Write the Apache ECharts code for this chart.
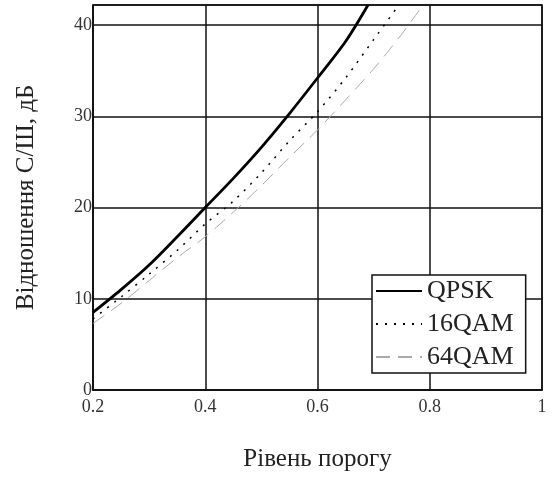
<!DOCTYPE html>
<html>
<head>
<meta charset="utf-8">
<script src="https://cdn.jsdelivr.net/npm/echarts@6/dist/echarts.min.js"></script>
<style>
  html, body { margin: 0; padding: 0; background: #fff; }
  #chart { width: 552px; height: 477px; }
</style>
</head>
<body>
<div id="chart"></div>
<script>
// curve points: [porog, S/N dB]
var qpsk = [[0.2, 8.5], [0.25, 11.0], [0.3, 13.7], [0.35, 16.8], [0.4, 20.0], [0.45, 23.2],
            [0.5, 26.6], [0.55, 30.3], [0.6, 34.2], [0.65, 38.2], [0.69, 42.2]];
var qam16 = [[0.2, 7.8], [0.25, 10.2], [0.3, 12.7], [0.35, 15.3], [0.4, 18.2], [0.45, 20.7],
             [0.5, 23.8], [0.55, 27.3], [0.6, 30.5], [0.65, 34.2], [0.7, 38.4], [0.745, 42.2]];
var qam64 = [[0.2, 7.3], [0.25, 9.5], [0.3, 12.0], [0.35, 14.5], [0.4, 16.8], [0.45, 19.5],
             [0.5, 22.4], [0.55, 25.5], [0.6, 28.5], [0.65, 31.8], [0.7, 35.2], [0.75, 39.0], [0.788, 42.2]];
var names = ['QPSK', '16QAM', '64QAM'];

var serif = 'Liberation Serif';

var myChart = echarts.init(document.getElementById('chart'));
var option = {
    animation: false,
    grid: {
        left: 93, right: 10, top: 5, bottom: 86,
        show: true, borderColor: '#111', borderWidth: 1.5
    },
    legend: {
        data: names,
        orient: 'vertical',
        left: 372, top: 275,
        width: 155,
        backgroundColor: '#fff',
        borderColor: '#111',
        borderWidth: 1.5,
        padding: [3, 12, 3, 3],
        itemWidth: 46,
        itemHeight: 14,
        itemGap: 7,
        itemStyle: { opacity: 0 },
        textStyle: { fontFamily: serif, fontSize: 26, color: '#222', lineHeight: 26 }
    },
    xAxis: {
        type: 'value',
        min: 0.2, max: 1, interval: 0.2,
        name: 'Рівень порогу',
        nameLocation: 'middle',
        nameGap: 57,
        nameTextStyle: { fontFamily: serif, fontSize: 25, color: '#222' },
        axisLine: { lineStyle: { color: '#111', width: 1.5 } },
        axisTick: { show: false },
        axisLabel: { fontFamily: serif, fontSize: 18, color: '#333', margin: 8,
            formatter: function (v) { return String(Math.round(v * 10) / 10); } },
        splitLine: { lineStyle: { color: '#111', width: 1.5 } }
    },
    yAxis: {
        type: 'value',
        min: 0, max: 42.2, interval: 10,
        name: 'Відношення С/Ш, дБ',
        nameLocation: 'middle',
        nameGap: 54,
        nameTextStyle: { fontFamily: serif, fontSize: 25, color: '#222' },
        axisLine: { lineStyle: { color: '#111', width: 1.5 } },
        axisTick: { show: false },
        axisLabel: { fontFamily: serif, fontSize: 18, color: '#333', margin: 1, showMaxLabel: false },
        splitLine: { lineStyle: { color: '#111', width: 1.5 } }
    },
    series: [
        {
            name: names[0], type: 'line', data: qpsk, symbol: 'none', smooth: 0.3,
            lineStyle: { color: '#000', width: 2.8 }, itemStyle: { color: '#000' }
        },
        {
            name: names[1], type: 'line', data: qam16, symbol: 'none', smooth: 0.3,
            lineStyle: { color: '#000', width: 1.5, type: [2, 7] }, itemStyle: { color: '#000' }
        },
        {
            name: names[2], type: 'line', data: qam64, symbol: 'none', smooth: 0.3,
            lineStyle: { color: '#aaa', width: 1, type: [14, 8] }, itemStyle: { color: '#aaa' }
        }
    ]
};
myChart.setOption(option);
</script>
</body>
</html>
